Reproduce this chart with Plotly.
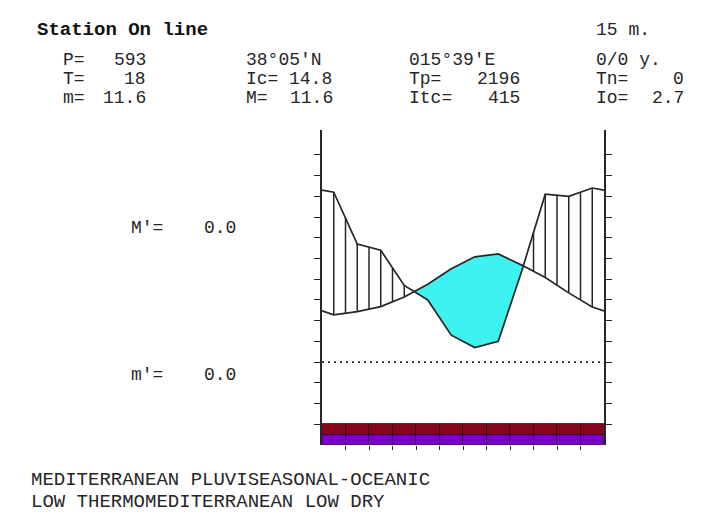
import numpy as np
import plotly.graph_objects as go

# ---------------- data ----------------
months = ["Jan", "Feb", "Mar", "Apr", "May", "Jun",
          "Jul", "Aug", "Sep", "Oct", "Nov", "Dec"]
precip_mm = [82, 57, 54, 37, 30, 13, 7, 10, 44, 81, 80, 84]
temp_c = [11.4, 12.2, 13.4, 15.7, 18.8, 22.5, 25.4, 26.1, 23.4, 20.4, 16.7, 13.3]
band_upper = ["frost-free"] * 12      # dark red band
band_lower = ["dry-season"] * 12      # purple band
y_ticks = list(range(-15, 55, 5))     # 5 degC (10 mm) per tick
month_bounds = list(range(1, 12))

header_rows = [
    # (label, label_x, value, value_right_x, y)
    ("P=", 62, "593", 147, 60), ("T=", 62, "18", 147, 79), ("m=", 62, "11.6", 147, 98),
    ("Ic=", 245, "14.8", 333, 79), ("M=", 245, "11.6", 334, 98),
    ("Tp=", 408, "2196", 521, 79), ("Itc=", 408, "415", 521, 98),
    ("Tn=", 595, "0", 685, 79), ("Io=", 595, "2.7", 685, 98),
]
free_texts = [("38°05'N", 245, 60), ("015°39'E", 408, 60), ("0/0 y.", 595, 60),
              ("15 m.", 595, 30)]
index_rows = [("M'=", "0.0", 228), ("m'=", "0.0", 375)]
class_lines = ["MEDITERRANEAN PLUVISEASONAL-OCEANIC",
               "LOW THERMOMEDITERRANEAN LOW DRY"]

# ---------------- geometry ----------------
OFF = 8                      # default body margin of the html page
FW, FH = 711 - OFF, 516 - OFF
FONT = "Liberation Mono"
INK = "#262626"

mid = [i + 0.5 for i in range(12)]
x_ext = [0.0] + mid + [12.0]
p_half = [v / 2.0 for v in precip_mm]          # P plotted on 2T scale
p_edge = (p_half[0] + p_half[-1]) / 2.0
t_edge = (temp_c[0] + temp_c[-1]) / 2.0
p_ext = [p_edge] + p_half + [p_edge]
t_ext = [t_edge] + temp_c + [t_edge]

# crossing points between the two curves
xs = list(x_ext)
for i in range(len(x_ext) - 1):
    d0 = t_ext[i] - p_ext[i]
    d1 = t_ext[i + 1] - p_ext[i + 1]
    if d0 * d1 < 0:
        xs.append(x_ext[i] + (x_ext[i + 1] - x_ext[i]) * d0 / (d0 - d1))
xs = sorted(xs)
tt = np.interp(xs, x_ext, t_ext)
pp = np.interp(xs, x_ext, p_ext)
dry = (tt - pp) >= -1e-9

fig = go.Figure()

# dry period polygons (T above P)
runs, cur = [], []
for k in range(len(xs)):
    if dry[k]:
        cur.append(k)
    else:
        if len(cur) > 1:
            runs.append(cur)
        cur = []
if len(cur) > 1:
    runs.append(cur)
for r in runs:
    px_ = [xs[k] for k in r] + [xs[k] for k in reversed(r)]
    py_ = [tt[k] for k in r] + [pp[k] for k in reversed(r)]
    fig.add_trace(go.Scatter(x=px_, y=py_, fill="toself", fillcolor="#3ff2f2",
                             mode="lines", line=dict(width=0), hoverinfo="skip"))

# humid period hatching (P above T), every half month
hx, hy = [], []
for h in np.arange(0.5, 12.0, 0.5):
    tv = float(np.interp(h, x_ext, t_ext))
    pv = float(np.interp(h, x_ext, p_ext))
    if pv > tv:
        hx += [h, h, None]
        hy += [tv, pv, None]
fig.add_trace(go.Scatter(x=hx, y=hy, mode="lines",
                         line=dict(color=INK, width=1.5), hoverinfo="skip"))

# curves
fig.add_trace(go.Scatter(x=x_ext, y=t_ext, mode="lines",
                         line=dict(color=INK, width=1.7), name="T"))
fig.add_trace(go.Scatter(x=x_ext, y=p_ext, mode="lines",
                         line=dict(color=INK, width=1.7), name="P"))

# bands at the bottom
fig.add_trace(go.Bar(x=mid, y=[2.5] * len(band_upper), base=-17.5, width=1,
                     marker=dict(color="#86061c", line=dict(color="#2a0008", width=0.8)),
                     hovertext=band_upper))
fig.add_trace(go.Bar(x=mid, y=[2.5] * len(band_lower), base=-20, width=1,
                     marker=dict(color="#7a00c8", line=dict(color="#2a0040", width=0.8)),
                     hovertext=band_lower))

# zero line (dashed)
fig.add_shape(type="line", xref="x", yref="y", x0=0, x1=12.15, y0=0, y1=0,
              line=dict(color=INK, width=1.6, dash="2px,4px"))

# plot area in page pixels
x0p, x1p = 322 - OFF, 604 - OFF
ytop, ybot = 130 - OFF, 445 - OFF
fig.update_layout(
    width=FW, height=FH, margin=dict(l=0, r=0, t=0, b=0),
    paper_bgcolor="white", plot_bgcolor="white", showlegend=False,
    barmode="overlay", bargap=0,
    xaxis=dict(domain=[x0p / FW, x1p / FW], range=[0, 12], showgrid=False,
               zeroline=False, showline=False, ticks="outside", ticklen=4,
               tickwidth=1.2, tickcolor=INK, tickvals=month_bounds,
               showticklabels=False, fixedrange=True),
    yaxis=dict(domain=[1 - ybot / FH, 1 - ytop / FH], range=[-20, 56],
               showgrid=False, zeroline=False, showline=True, linecolor=INK,
               linewidth=1.5, mirror="ticks", ticks="outside", ticklen=6,
               tickwidth=1.2, tickcolor=INK, tickvals=y_ticks,
               showticklabels=False, fixedrange=True),
)


def ann(text, x, y, anchor="left", size=18, bold=False, color=INK):
    fig.add_annotation(text=("<b>%s</b>" % text) if bold else text,
                       xref="paper", yref="paper",
                       x=(x - OFF) / FW, y=1 - (y - OFF) / FH,
                       xanchor=anchor, yanchor="middle", showarrow=False,
                       borderpad=0,
                       font=dict(family=FONT, size=size, color=color))


ann("Station On line", 36, 30, size=19, bold=True, color="#111")
for lab, lx, val, vx, y in header_rows:
    ann(lab, lx, y)
    ann(val, vx, y, anchor="right")
for txt, x, y in free_texts:
    ann(txt, x, y)
for lab, val, y in index_rows:
    ann(lab, 130, y)
    ann(val, 237, y, anchor="right")
ann(class_lines[0], 30, 480, size=19)
ann(class_lines[1], 30, 502, size=19)

fig.write_html("out.html")
